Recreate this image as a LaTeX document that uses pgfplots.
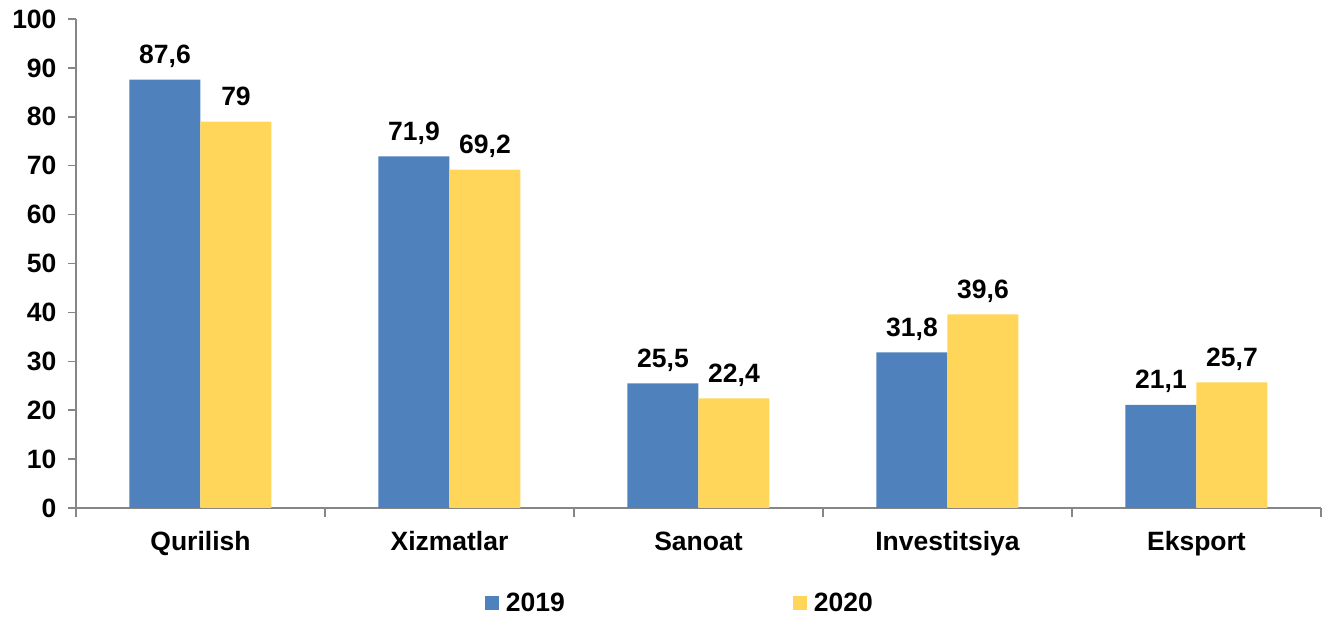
\documentclass[border=0pt]{standalone}
\usepackage{pgfplots}
\pgfplotsset{compat=1.18}
\usepackage{fontspec}
\setmainfont{Liberation Sans}
\definecolor{cblue}{HTML}{4F81BD}
\definecolor{cyellow}{HTML}{FFD65A}
\definecolor{axgray}{HTML}{868686}
\newcommand{\bigf}{\fontsize{26.5}{32}\selectfont\bfseries}
\begin{document}
\begin{tikzpicture}
\path[use as bounding box] (-76pt,-110pt) rectangle (1252pt,508pt);
\begin{axis}[
  at={(0pt,0pt)}, anchor=south west,
  scale only axis, width=1245pt, height=489pt,
  xmin=-0.5, xmax=4.5, ymin=0, ymax=100,
  enlargelimits=false,
  ytick={0,10,...,100},
  xtick={0,1,2,3,4},
  xticklabels={Qurilish,Xizmatlar,Sanoat,Investitsiya,Eksport},
  minor xtick={-0.5,0.5,1.5,2.5,3.5,4.5},
  axis x line*=bottom, axis y line*=left,
  axis line style={draw=axgray, line width=1.5pt, -},
  tick align=outside,
  major tick length=8pt, minor tick length=9pt,
  tick style={draw=axgray, line width=1.5pt},
  major x tick style={draw=none},
  tick label style={font=\bigf, text=black},
  yticklabel style={xshift=-8pt},
  xticklabel style={yshift=-12pt},
  /pgf/number format/use comma,
  /pgf/number format/assume math mode=true,
  /pgf/number format/1000 sep={},
  ybar=0pt, bar width=71pt,
  nodes near coords,
  nodes near coords style={font=\bigf, text=black, anchor=base, yshift=16pt},
  legend columns=2,
  legend style={draw=none, fill=none, at={(0.485,-0.194)}, anchor=center, font=\bigf,
    /tikz/every even column/.append style={column sep=226pt}},
  legend image code/.code={\fill[#1] (0pt,-7pt) rectangle (14pt,7pt); \path (19pt,0pt);},
]
\addplot[fill=cblue, draw=none] coordinates {(0,87.6) (1,71.9) (2,25.5) (3,31.8) (4,21.1)};
\addplot[fill=cyellow, draw=none] coordinates {(0,79) (1,69.2) (2,22.4) (3,39.6) (4,25.7)};
\legend{2019,2020}
\end{axis}
\end{tikzpicture}
\end{document}
